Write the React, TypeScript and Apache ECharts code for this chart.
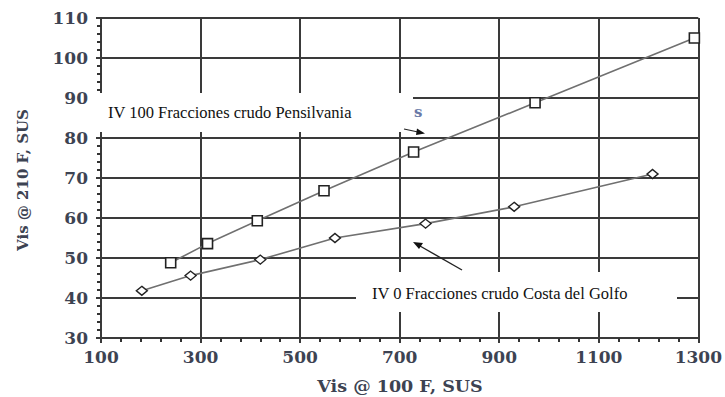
import React, { useEffect, useRef } from "react";
import * as echarts from "echarts";

const xTicks = [100, 300, 500, 700, 900, 1100, 1300];
const yTicks = [30, 40, 50, 60, 70, 80, 90, 100, 110];

const pennX = [240, 314, 414, 548, 728, 972, 1292];
const pennY = [48.8, 53.6, 59.3, 66.8, 76.5, 88.8, 105];

const gulfX = [182, 280, 420, 570, 752, 930, 1208];
const gulfY = [41.8, 45.6, 49.6, 55, 58.6, 62.8, 71];

const pennLabel = "IV 100 Fracciones crudo Pensilvania";
const gulfLabel = "IV 0 Fracciones crudo Costa del Golfo";
const xTitle = "Vis @ 100 F, SUS";
const yTitle = "Vis @ 210 F, SUS";

const tickColor = "#3d4352";
const gridColor = "#3a3a3a";
const serif = "'DejaVu Serif', serif";

export default function App() {
  const ref = useRef<HTMLDivElement>(null);
  useEffect(() => {
    if (!ref.current) return;
    const chart = echarts.init(ref.current, undefined, { renderer: "svg" });
    const axisCommon = {
      type: "value" as const,
      axisLine: { show: true, onZero: false, lineStyle: { color: gridColor, width: 2 } },
      axisTick: { show: true, length: 5, lineStyle: { color: gridColor, width: 2 } },
      minorTick: { show: true, splitNumber: 5, length: 4, lineStyle: { color: "#333", width: 2 } },
      splitLine: { show: true, lineStyle: { color: gridColor, width: 2 } },
      axisLabel: {
        color: tickColor, fontFamily: serif, fontWeight: "bold", fontSize: 17,
        formatter: (v: number) => String(v),
      },
    };
    chart.setOption({
      animation: false,
      backgroundColor: "#ffffff",
      grid: { left: 101, right: 24, top: 18, bottom: 59, containLabel: false },
      xAxis: {
        ...axisCommon,
        min: xTicks[0],
        max: xTicks[xTicks.length - 1],
        interval: 200,
        axisLabel: { ...axisCommon.axisLabel, margin: 10 },
      },
      yAxis: {
        ...axisCommon,
        min: yTicks[0],
        max: yTicks[yTicks.length - 1],
        interval: 10,
        axisLabel: { ...axisCommon.axisLabel, margin: 13 },
      },
      series: [
        {
          type: "line",
          data: pennX.map((x, i) => [x, pennY[i]]),
          symbol: "rect",
          symbolSize: 10,
          showSymbol: true,
          lineStyle: { color: "#707070", width: 1.6 },
          itemStyle: { color: "#ffffff", borderColor: "#222", borderWidth: 1.6 },
          z: 3,
        },
        {
          type: "line",
          data: gulfX.map((x, i) => [x, gulfY[i]]),
          symbol: "diamond",
          symbolSize: [11, 9],
          showSymbol: true,
          lineStyle: { color: "#707070", width: 1.6 },
          itemStyle: { color: "#ffffff", borderColor: "#222", borderWidth: 1.4 },
          z: 3,
        },
      ],
      graphic: [
        { type: "rect", z: 100, shape: { x: 96, y: 93, width: 317, height: 39 }, style: { fill: "#ffffff" } },
        {
          type: "text", z: 101, x: 108, y: 112,
          style: { text: pennLabel, font: "16.5px 'Liberation Serif', serif", fill: "#111", textVerticalAlign: "middle" },
        },
        {
          type: "text", z: 101, x: 414, y: 112,
          style: { text: "s", font: "bold 15px 'DejaVu Serif', serif", fill: "#6a7aa8", textVerticalAlign: "middle" },
        },
        { type: "line", z: 101, shape: { x1: 404, y1: 129, x2: 418, y2: 132 }, style: { stroke: "#222", lineWidth: 1.2 } },
        { type: "polygon", z: 101, shape: { points: [[425, 133.5], [417, 128.5], [416, 135]] }, style: { fill: "#111" } },
        { type: "rect", z: 100, shape: { x: 356, y: 272, width: 321, height: 40 }, style: { fill: "#ffffff" } },
        {
          type: "text", z: 101, x: 372, y: 293,
          style: { text: gulfLabel, font: "16.5px 'Liberation Serif', serif", fill: "#111", textVerticalAlign: "middle" },
        },
        { type: "line", z: 101, shape: { x1: 462, y1: 270, x2: 420, y2: 246 }, style: { stroke: "#222", lineWidth: 1.4 } },
        { type: "polygon", z: 101, shape: { points: [[413, 242], [423, 243], [419, 249]] }, style: { fill: "#111" } },
        {
          type: "text", z: 101, x: 400, y: 386,
          style: { text: xTitle, font: "bold 17.5px 'DejaVu Serif', serif", fill: tickColor, textAlign: "center", textVerticalAlign: "middle" },
        },
        {
          type: "text", z: 101, x: 23, y: 180, rotation: Math.PI / 2,
          style: { text: yTitle, font: "bold 15px 'DejaVu Serif', serif", fill: tickColor, textAlign: "center", textVerticalAlign: "middle" },
        },
      ],
    });
    return () => chart.dispose();
  }, []);
  return <div ref={ref} style={{ width: 725, height: 397, position: "absolute", left: 0, top: 0 }} />;
}
